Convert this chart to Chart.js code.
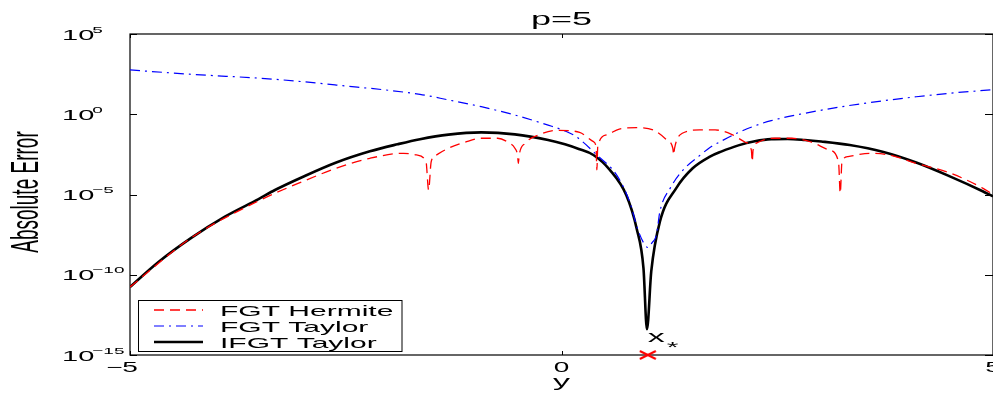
<!DOCTYPE html>
<html>
<head>
<meta charset="utf-8">
<script src="https://cdn.jsdelivr.net/npm/chart.js@4/dist/chart.umd.min.js"></script>
<style>
  body { margin: 0; background: #fff; }
  #wrap { width: 993px; height: 395px; position: relative; }
</style>
</head>
<body>
<div id="wrap"><canvas id="errChart"></canvas></div>
<script>
// values (log-scale y)
const hermiteX = [-5.0, -4.29, -3.51, -3.0, -2.61, -2.22, -1.83, -1.68, -1.57, -1.54, -1.51, -1.45, -1.31, -1.12,
    -0.93, -0.74, -0.62, -0.54, -0.51, -0.50, -0.49, -0.42, -0.235, -0.04, 0.21, 0.37, 0.40, 0.41, 0.42,
    0.52, 0.67, 0.87, 1.06, 1.22, 1.29, 1.30, 1.31, 1.40, 1.60, 1.78, 1.97, 2.13, 2.20, 2.21, 2.22,
    2.28, 2.47, 2.67, 2.90, 3.10, 3.21, 3.23, 3.25, 3.32, 3.57, 3.80, 4.11, 4.50, 4.88, 5.0];
const hermiteY = [1.75e-11, 2.0e-8, 4.0e-6, 6.4e-5, 4.3e-4, 1.8e-3, 3.7e-3, 2.9e-3, 1.1e-3, 1.9e-5, 1.1e-3, 2.9e-3, 7.6e-3, 1.8e-2,
    3.2e-2, 3.2e-2, 1.8e-2, 7.6e-3, 2.9e-3, 8.7e-4, 2.9e-3, 1.55e-2, 5.9e-2, 1.0e-1, 7.4e-2, 1.95e-2, 9.5e-3, 3.4e-4, 9.5e-3,
    5.1e-2, 1.2e-1, 1.45e-1, 1.05e-1, 2.5e-2, 7.6e-3, 2.9e-3, 7.6e-3, 6.5e-2, 1.05e-1, 1.05e-1, 5.6e-2, 1.8e-2, 5.9e-3, 1.1e-3, 5.9e-3,
    1.8e-2, 3.2e-2, 3.2e-2, 1.8e-2, 5.9e-3, 1.1e-3, 1.2e-5, 1.1e-3, 2.3e-3, 3.7e-3, 2.9e-3, 8.7e-4, 2.2e-4, 2.5e-5, 1.0e-5];

const taylorX = [-5.0, -4.29, -3.32, -2.61, -1.64, -1.31, -0.93, -0.54, -0.155, 0.04, 0.17, 0.41, 0.64, 0.79, 0.88,
    0.95, 1.0, 1.05, 1.10, 1.14, 1.26, 1.41, 1.61, 1.72, 1.85, 2.05, 2.24, 2.43, 2.82, 3.32, 3.72, 4.11, 4.50, 5.0];
const taylorY = [575, 309, 151, 66, 17.4, 7.8, 2.95, 0.89, 0.21, 9.1e-2, 4.0e-2, 2.9e-3, 1.6e-4, 3.5e-6, 7.8e-8,
    1e-8, 5.0e-9, 1e-8, 3.0e-8, 8.5e-7, 2.5e-5, 3.4e-4, 2.9e-3, 8.5e-3, 2.1e-2, 7.3e-2, 0.19, 0.40, 1.15, 3.4, 6.8, 12.3, 20.4, 33.9];

const ifgtX = [-5.0, -4.67, -4.29, -3.9, -3.51, -3.32, -3.0, -2.61, -2.22, -1.9, -1.64, -1.31, -0.93, -0.54, -0.155, 0.04, 0.2, 0.37,
    0.56, 0.75, 0.87, 0.95, 0.99, 1.04, 1.14, 1.33, 1.52, 1.72, 1.85, 2.05, 2.24, 2.43, 2.62, 2.82, 3.01, 3.34,
    3.72, 4.11, 4.5, 4.88, 5.0];
const ifgtY = [1.75e-11, 6.3e-10, 2.0e-8, 4.2e-7, 5.2e-6, 1.9e-5, 1.23e-4, 9.8e-4, 4.9e-3, 1.35e-2, 2.8e-2, 5.4e-2, 7.4e-2, 5.6e-2, 2.5e-2, 1.35e-2, 6.9e-3, 2.9e-3,
    3.4e-4, 9.3e-6, 7.9e-8, 2.5e-10, 4.0e-14, 1.6e-10, 2.0e-7, 2.5e-5, 4.3e-4, 2.3e-3, 4.7e-3, 1.15e-2, 2.05e-2, 2.8e-2, 2.9e-2, 2.5e-2, 2.0e-2, 1.2e-2,
    4.6e-3, 9.8e-4, 1.35e-4, 1.6e-5, 7.6e-6];

const sourceX = [1.0];
const sourceY = [1e-15];

const xTickValues = [-5, 0, 5];
const xTickLabels = ['\u22125', '0', '5'];
const yTickValues = [1e5, 1, 1e-5, 1e-10, 1e-15];
const yTickExponents = ['5', '0', '\u22125', '\u221210', '\u221215'];

const SX = 2.0; // the source figure is stretched horizontally
const FONT = '"Liberation Sans", Arial, Helvetica, sans-serif';

function toPoints(xs, ys) {
    return xs.map((x, i) => ({ x: x, y: ys[i] }));
}

function wideText(ctx, str, x, y, size, align) {
    ctx.save();
    ctx.font = size + 'px ' + FONT;
    const w = ctx.measureText(str).width * SX;
    let x0 = x;
    if (align === 'center') x0 = x - w / 2;
    else if (align === 'right') x0 = x - w;
    ctx.translate(x0, y);
    ctx.scale(SX, 1);
    ctx.textAlign = 'left';
    ctx.textBaseline = 'alphabetic';
    ctx.fillStyle = '#000';
    ctx.fillText(str, 0, 0);
    ctx.restore();
    return w;
}

// red x marker, wide like the reference
const crossMark = document.createElement('canvas');
crossMark.width = 18;
crossMark.height = 10;
(function () {
    const c = crossMark.getContext('2d');
    c.strokeStyle = '#ff0000';
    c.lineWidth = 2;
    c.beginPath();
    c.moveTo(1, 1); c.lineTo(17, 9);
    c.moveTo(17, 1); c.lineTo(1, 9);
    c.stroke();
})();

const frame = {
    id: 'frame',
    beforeDatasetsDraw(chart) {
        const ctx = chart.ctx;
        const a = chart.chartArea;
        const xs = chart.scales.x, ys = chart.scales.y;
        ctx.save();
        ctx.strokeStyle = '#000';
        ctx.lineWidth = 1.2;
        ctx.strokeRect(a.left, a.top, a.right - a.left, a.bottom - a.top);
        ctx.lineWidth = 1;
        ctx.beginPath();
        yTickValues.forEach(v => {
            const py = Math.round(ys.getPixelForValue(v)) + 0.5;
            ctx.moveTo(a.left, py); ctx.lineTo(a.left + 7, py);
            ctx.moveTo(a.right, py); ctx.lineTo(a.right - 8, py);
        });
        xTickValues.forEach(v => {
            const px = Math.round(xs.getPixelForValue(v)) + 0.5;
            ctx.moveTo(px, a.bottom); ctx.lineTo(px, a.bottom - 4);
            ctx.moveTo(px, a.top); ctx.lineTo(px, a.top + 4);
        });
        ctx.stroke();
        ctx.restore();
    },
    afterDraw(chart) {
        const ctx = chart.ctx;
        const a = chart.chartArea;
        const xs = chart.scales.x, ys = chart.scales.y;

        // y tick labels 10^k
        yTickValues.forEach((v, i) => {
            const py = ys.getPixelForValue(v);
            const w = wideText(ctx, '10', 62, py + 5.5, 14.5, 'left');
            wideText(ctx, yTickExponents[i], 62 + w - 2, py - 1.5, 9.5, 'left');
        });
        // x tick labels
        xTickValues.forEach((v, i) => {
            const px = xs.getPixelForValue(v);
            if (xTickLabels[i].length > 1) {
                wideText(ctx, xTickLabels[i], px + 7.8, 372, 14, 'right');
            } else {
                wideText(ctx, xTickLabels[i], px, 372, 14, 'center');
            }
        });

        const cx = (a.left + a.right) / 2;
        wideText(ctx, 'p=5', cx, 25, 18, 'center');
        wideText(ctx, 'y', cx, 387, 17, 'center');

        // rotated y title
        ctx.save();
        ctx.translate(28, 192);
        ctx.scale(SX, 1);
        ctx.rotate(-Math.PI / 2);
        ctx.font = '19px ' + FONT;
        ctx.textAlign = 'center';
        ctx.textBaseline = 'middle';
        ctx.fillStyle = '#000';
        ctx.fillText('Absolute Error', 0, 0);
        ctx.restore();

        // x* label
        const sx = xs.getPixelForValue(sourceX[0]);
        const w = wideText(ctx, 'x', sx, 342, 17, 'left');
        wideText(ctx, '*', sx + w + 2, 352, 15, 'left');

        // legend box
        ctx.save();
        ctx.fillStyle = '#fff';
        ctx.fillRect(138.5, 300.5, 263.5, 51);
        ctx.strokeStyle = '#000';
        ctx.lineWidth = 1;
        ctx.strokeRect(138.5, 300.5, 263.5, 51);
        const rows = [310, 326, 342];
        chart.data.datasets.slice(0, 3).forEach((ds, i) => {
            ctx.save();
            ctx.strokeStyle = ds.borderColor;
            ctx.lineWidth = ds.borderWidth;
            ctx.setLineDash(ds.borderDash || []);
            ctx.beginPath();
            ctx.moveTo(154, rows[i]);
            ctx.lineTo(203, rows[i]);
            ctx.stroke();
            ctx.restore();
            wideText(ctx, ds.label, 220, rows[i] + 5.5, 15, 'left');
        });
        ctx.restore();
    }
};

new Chart(document.getElementById('errChart'), {
    type: 'line',
    data: {
        datasets: [{
            label: 'FGT Hermite',
            data: toPoints(hermiteX, hermiteY),
            borderColor: '#ff0000',
            borderWidth: 1.3,
            borderDash: [10, 6],
            pointRadius: 0,
            cubicInterpolationMode: 'monotone'
        }, {
            label: 'FGT Taylor',
            data: toPoints(taylorX, taylorY),
            borderColor: '#0000ff',
            borderWidth: 1.2,
            borderDash: [10, 5, 2, 5],
            pointRadius: 0,
            cubicInterpolationMode: 'monotone'
        }, {
            label: 'IFGT Taylor',
            data: toPoints(ifgtX, ifgtY),
            borderColor: '#000000',
            borderWidth: 2.6,
            pointRadius: 0,
            cubicInterpolationMode: 'monotone'
        }, {
            label: 'source',
            data: toPoints(sourceX, sourceY),
            showLine: false,
            pointStyle: crossMark,
            pointRadius: 5,
            clip: false
        }]
    },
    options: {
        responsive: true,
        maintainAspectRatio: false,
        animation: false,
        layout: { autoPadding: false, padding: { top: 34, left: 0, right: 0, bottom: 0 } },
        plugins: {
            legend: { display: false },
            title: { display: false },
            tooltip: { enabled: false }
        },
        scales: {
            x: {
                type: 'linear',
                min: -5,
                max: 5,
                grid: { display: false },
                border: { display: false },
                ticks: { display: false },
                afterFit(scale) { scale.height = 40; }
            },
            y: {
                type: 'logarithmic',
                min: 1e-15,
                max: 1e5,
                grid: { display: false },
                border: { display: false },
                ticks: { display: false },
                afterFit(scale) { scale.width = 130; }
            }
        }
    },
    plugins: [frame]
});
</script>
</body>
</html>
